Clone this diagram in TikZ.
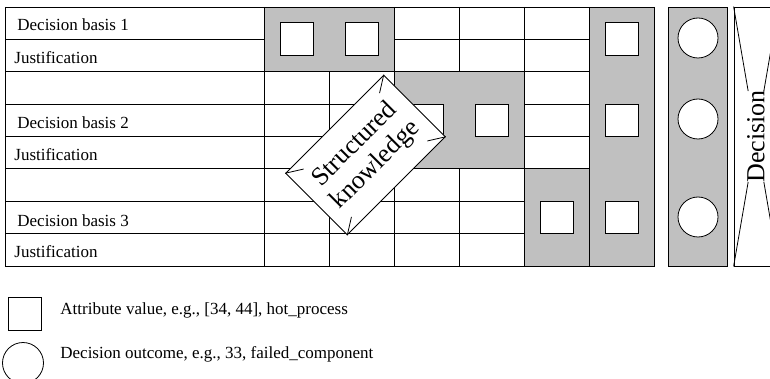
\documentclass[tikz,border=0pt]{standalone}
\usepackage{fontspec}
\setmainfont{Liberation Serif}
\usetikzlibrary{calc}
\definecolor{cellgray}{RGB}{192,192,192}

\begin{document}
\begin{tikzpicture}[x=1pt,y=-1pt,line width=0.8pt,
  attr/.style={draw,fill=white,inner sep=0pt,minimum width=33pt,minimum height=32.5pt},
  outcome/.style={draw,fill=white,circle,inner sep=0pt,minimum size=40pt},
  block/.style={draw,fill=cellgray},
  rowtext/.style={anchor=base west,inner sep=0pt,font=\fontsize{17}{20}\selectfont},
  bigtext/.style={draw,fill=white,font=\fontsize{26}{29}\selectfont}]
  \useasboundingbox (0,0) rectangle (770,379);

  % table grid
  \foreach \r in {0,...,8}
    \draw (5,7+32.375*\r) -- (654,7+32.375*\r);
  \foreach \c in {5,264,329,394,459,524,589,654}
    \draw (\c,7) -- (\c,266);

  % row labels
  \node[rowtext] (b1) at (17,31) {Decision basis 1};
  \node[rowtext] (j1) at (14,63.5) {Justification};
  \node[rowtext] (b2) at (17,129) {Decision basis 2};
  \node[rowtext] (j2) at (14,161) {Justification};
  \node[rowtext] (b3) at (17,226) {Decision basis 3};
  \node[rowtext] (j3) at (14,258) {Justification};

  % shaded blocks and attribute values
  \draw[block] (264,7) rectangle (394,71.75);
  \draw[block] (394,71.75) rectangle (524,168.875);
  \draw[block] (524,168.875) rectangle (589,266);
  \draw[block] (589,7) rectangle (654,266);
  \node[attr] (a1) at (296.5,39) {};
  \node[attr] (a2) at (361.5,39) {};
  \node[attr] (a3) at (426.5,120.3) {};
  \node[attr] (a4) at (491.5,120.3) {};
  \node[attr] (a5) at (556.5,217.4) {};
  \node[attr] (a6) at (621.5,39) {};
  \node[attr] (a7) at (621.5,120.3) {};
  \node[attr] (a8) at (621.5,217.4) {};

  % outcomes
  \draw[block] (668,7) rectangle (727,266);
  \node[outcome] (o1) at (698,38) {};
  \node[outcome] (o2) at (698,119) {};
  \node[outcome] (o3) at (698,217) {};

  % decision
  \node[bigtext,rotate=90,minimum width=259pt,minimum height=44pt] (dec) at (756,136.5) {Decision};
  \foreach \c in {north west,north east,south west,south east}
    \draw (dec.\c) -- ($(dec.\c)!0.65!(dec.center)$);

  % structured knowledge
  \node[bigtext,rotate=45,minimum width=138.6pt,minimum height=87pt,align=center] (sk) at (365.5,155) {Structured\\knowledge};
  \foreach \c in {north west,north east,south west,south east}
    \draw (sk.\c) -- ($(sk.\c)!0.23!(sk.center)$);

  % legend
  \node[attr] (la) at (24.5,314) {};
  \node[rowtext] (ta) at (60,314) {Attribute value, e.g., [34, 44], hot\_process};
  \node[outcome,minimum size=41pt] (lo) at (23,363) {};
  \node[rowtext] (to) at (60,358) {Decision outcome, e.g., 33, failed\_component};
\end{tikzpicture}
\end{document}
